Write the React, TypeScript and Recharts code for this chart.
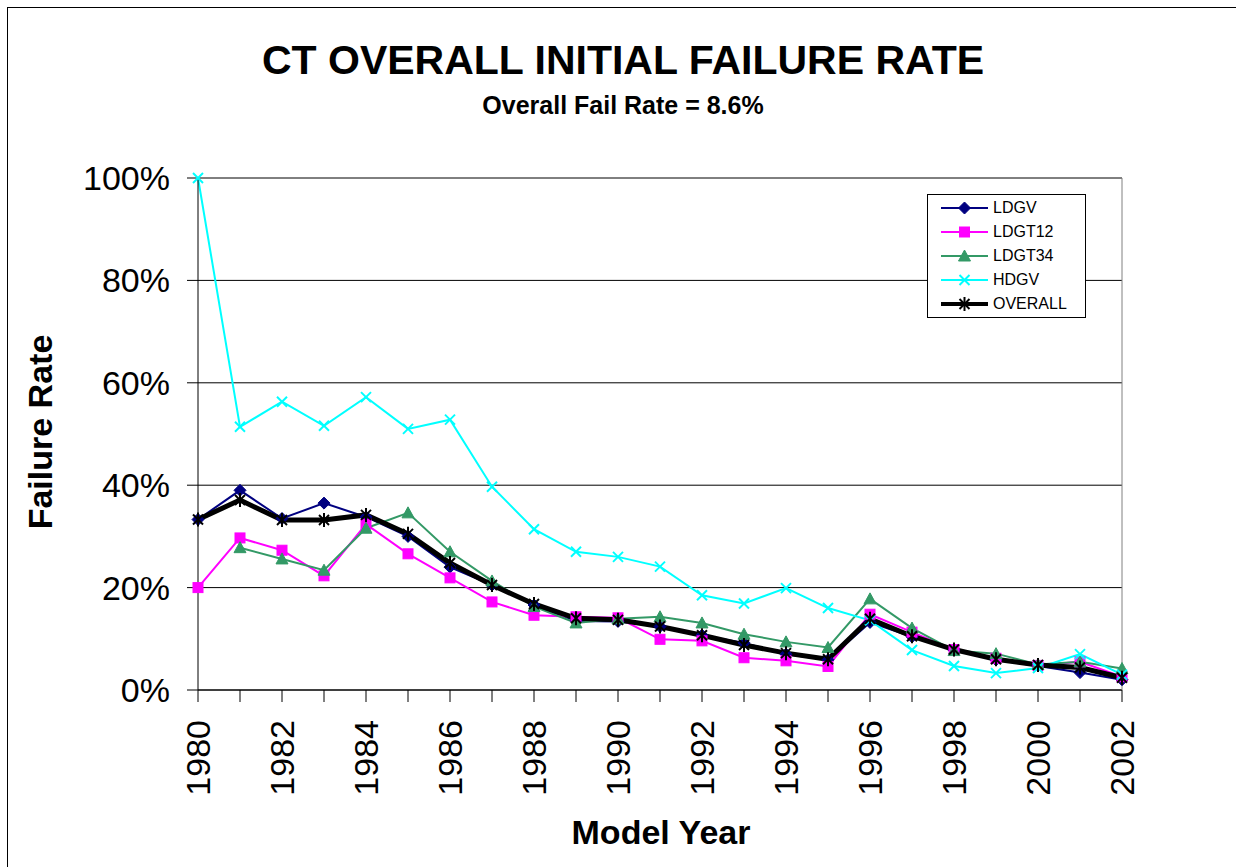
import React from 'react';
import { LineChart, Line, XAxis, YAxis, CartesianGrid } from 'recharts';

const font = "Arial, 'Liberation Sans', sans-serif";

// model years and failure rates (%)
const years = [1980, 1981, 1982, 1983, 1984, 1985, 1986, 1987, 1988, 1989, 1990, 1991, 1992, 1993, 1994, 1995, 1996, 1997, 1998, 1999, 2000, 2001, 2002];
const ldgv = [33.3, 39.0, 33.5, 36.5, 33.8, 30.0, 24.0, 20.5, 16.6, 13.5, 13.4, 12.4, 10.7, 9.2, 7.0, 5.9, 13.2, 10.4, 7.8, 5.9, 4.7, 3.4, 2.0];
const ldgt12 = [20.0, 29.7, 27.3, 22.3, 32.4, 26.6, 21.9, 17.2, 14.6, 14.3, 14.1, 9.9, 9.6, 6.3, 5.7, 4.6, 14.8, 11.3, 7.9, 6.2, 4.8, 5.5, 2.6];
const ldgt34 = [null, 27.8, 25.6, 23.4, 31.6, 34.6, 27.0, 21.3, 16.3, 13.1, 13.9, 14.3, 13.1, 10.9, 9.4, 8.3, 17.8, 12.1, 7.7, 7.1, 5.0, 5.5, 4.2];
const hdgv = [100, 51.4, 56.3, 51.6, 57.2, 51.0, 52.8, 39.7, 31.4, 27.0, 26.0, 24.1, 18.5, 16.9, 19.9, 16.0, 13.6, 7.8, 4.7, 3.3, 4.3, 7.0, 3.0];
const overall = [33.3, 37.1, 33.2, 33.2, 34.2, 30.5, 24.8, 20.5, 16.8, 14.0, 13.7, 12.4, 10.7, 8.8, 7.2, 6.0, 13.9, 10.5, 7.9, 6.0, 4.9, 4.4, 2.4];
const yTicks = [0, 20, 40, 60, 80, 100];

const seriesNames = ['LDGV', 'LDGT12', 'LDGT34', 'HDGV', 'OVERALL'];
const seriesColors = ['#000080', '#FF00FF', '#339966', '#00FFFF', '#000000'];
const seriesMarkers = ['diamond', 'square', 'triangle', 'x', 'star'];
const seriesWidths = [2, 2, 2, 2, 5];
const seriesValues = [ldgv, ldgt12, ldgt34, hdgv, overall];

const data = years.map((year, i) => {
  const row: any = { year };
  seriesNames.forEach((n, s) => { row[n] = seriesValues[s][i]; });
  return row;
});

function marker(kind: string, cx: number, cy: number, color: string, key?: string) {
  if (cx == null || cy == null || isNaN(cy)) return <g key={key} />;
  if (kind === 'diamond') {
    return <polygon key={key} points={`${cx},${cy - 6} ${cx + 6},${cy} ${cx},${cy + 6} ${cx - 6},${cy}`} fill={color} stroke={color} />;
  }
  if (kind === 'square') {
    return <rect key={key} x={cx - 5} y={cy - 5} width={10} height={10} fill={color} stroke={color} />;
  }
  if (kind === 'triangle') {
    return <polygon key={key} points={`${cx},${cy - 6} ${cx + 6},${cy + 5} ${cx - 6},${cy + 5}`} fill={color} stroke={color} />;
  }
  if (kind === 'x') {
    return (
      <g key={key} stroke={color} strokeWidth={2}>
        <line x1={cx - 5} y1={cy - 5} x2={cx + 5} y2={cy + 5} />
        <line x1={cx - 5} y1={cy + 5} x2={cx + 5} y2={cy - 5} />
      </g>
    );
  }
  return (
    <g key={key} stroke={color} strokeWidth={2}>
      <line x1={cx - 5} y1={cy - 5} x2={cx + 5} y2={cy + 5} />
      <line x1={cx - 5} y1={cy + 5} x2={cx + 5} y2={cy - 5} />
      <line x1={cx} y1={cy - 7} x2={cx} y2={cy + 7} />
    </g>
  );
}

const YearTick = (props: any) => {
  const { x, y, payload } = props;
  if (payload.value % 2 !== 0) return <g />;
  return (
    <text x={0} y={0} transform={`translate(${x},${y + 16}) rotate(-90)`} textAnchor="end" dominantBaseline="central"
      fontSize={34} fill="#000" fontFamily={font}>
      {payload.value}
    </text>
  );
};

export default function App() {
  return (
    <div style={{ position: 'fixed', left: 0, top: 0, width: 1236, height: 867, overflow: 'hidden', background: '#fff', fontFamily: font }}>
      <div style={{ position: 'absolute', left: 7, top: 7, width: 1300, height: 900, border: '1px solid #000' }} />
      <div style={{ position: 'absolute', left: 0, width: 1246, top: 38, textAlign: 'center', fontWeight: 'bold', fontSize: 41, lineHeight: '44px' }}>
        CT OVERALL INITIAL FAILURE RATE
      </div>
      <div style={{ position: 'absolute', left: 0, width: 1246, top: 90, textAlign: 'center', fontWeight: 'bold', fontSize: 25, lineHeight: '30px' }}>
        Overall Fail Rate = 8.6%
      </div>
      <div style={{ position: 'absolute', left: 0, width: 1322, top: 812, textAlign: 'center', fontWeight: 'bold', fontSize: 34, lineHeight: '40px' }}>
        Model Year
      </div>
      <div style={{ position: 'absolute', left: 40, top: 432, width: 0, height: 0 }}>
        <div style={{ position: 'absolute', left: -150, top: -20, width: 300, textAlign: 'center', fontWeight: 'bold', fontSize: 34, lineHeight: '40px', transform: 'rotate(-90deg)' }}>
          Failure Rate
        </div>
      </div>
      <div style={{ position: 'absolute', left: 0, top: 0 }}>
        <LineChart width={1236} height={867} data={data} margin={{ top: 178, right: 0, bottom: 0, left: 0 }}>
          <CartesianGrid vertical={false} stroke="#000" strokeWidth={1} />
          <XAxis dataKey="year" type="number" domain={[1980, 2002]} ticks={years} interval={0} height={177}
            tick={<YearTick />} tickSize={12} stroke="#000" axisLine={{ stroke: '#000' }} tickLine={{ stroke: '#000' }} />
          <YAxis domain={[0, 100]} ticks={yTicks} width={198} tickSize={11} tickMargin={17}
            tickFormatter={(v: number) => `${v}%`} tick={{ fontSize: 34, fill: '#000', fontFamily: font }}
            axisLine={{ stroke: '#000' }} tickLine={{ stroke: '#000' }} />
          <YAxis yAxisId="r" orientation="right" domain={[0, 100]} width={114} tick={false} tickLine={false}
            axisLine={{ stroke: '#808080' }} />
          {seriesNames.map((name, s) => (
            <Line key={name} dataKey={name} type="linear" stroke={seriesColors[s]} strokeWidth={seriesWidths[s]}
              isAnimationActive={false}
              dot={(p: any) => marker(seriesMarkers[s], p.cx, p.cy, seriesColors[s], `${name}-${p.index}`)}
              activeDot={false} />
          ))}
        </LineChart>
      </div>
      <div style={{ position: 'absolute', left: 927, top: 194, width: 159, height: 124, border: '1px solid #000', background: '#fff', boxSizing: 'border-box' }}>
        {seriesNames.map((name, s) => (
          <div key={name} style={{ position: 'absolute', left: 0, top: 1 + s * 24, height: 24, width: 158 }}>
            <svg width={48} height={24} style={{ position: 'absolute', left: 13, top: 0 }}>
              <line x1={0} y1={12} x2={47} y2={12} stroke={seriesColors[s]} strokeWidth={seriesWidths[s] === 5 ? 4 : 2} />
              {marker(seriesMarkers[s], 23.5, 12, seriesColors[s])}
            </svg>
            <span style={{ position: 'absolute', left: 65, top: 0, lineHeight: '24px', fontSize: 16 }}>{name}</span>
          </div>
        ))}
      </div>
    </div>
  );
}
